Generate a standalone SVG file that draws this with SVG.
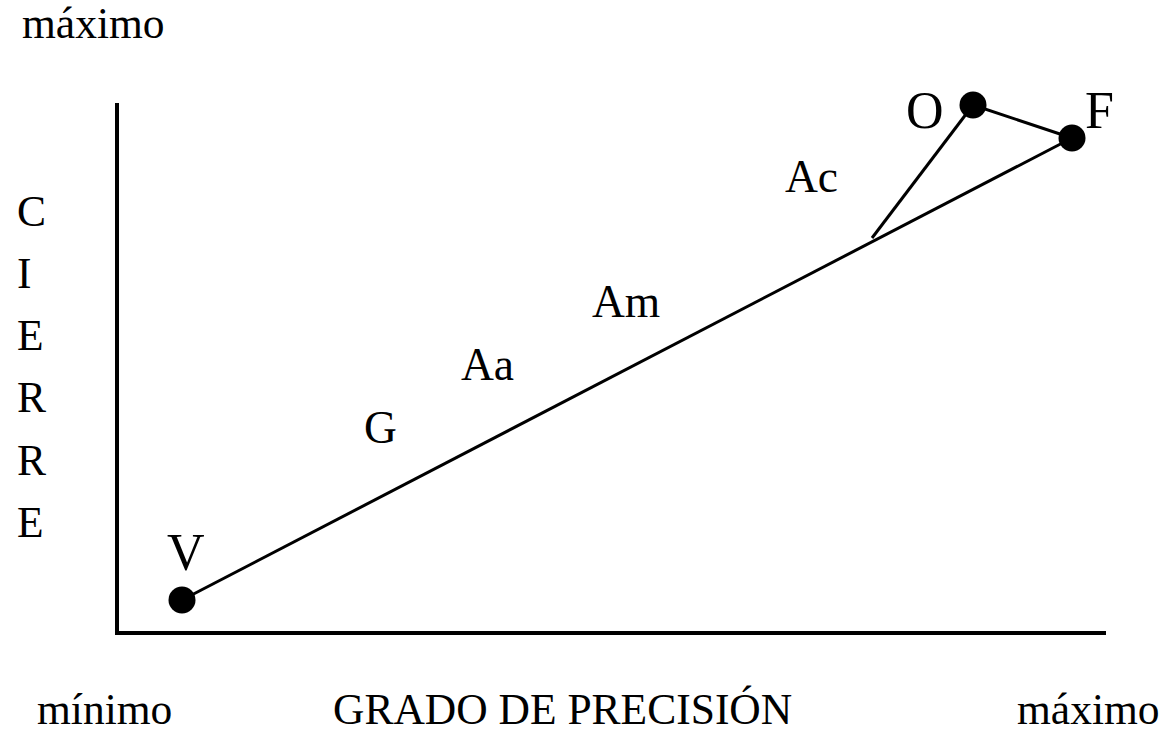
<svg xmlns="http://www.w3.org/2000/svg" width="1167" height="732" viewBox="0 0 1167 732">
<style>
text{font-family:"Liberation Serif","Times New Roman",serif;fill:#000}
.ax{font-size:43.5px}
.lb{font-size:45.5px}
.pt{font-size:52px}
.ln{stroke:#000;stroke-width:3;fill:none}
.axis{stroke:#000;stroke-width:4;fill:none}
.dot{fill:#000}
</style>
<rect width="1167" height="732" fill="#fff"/>
<g id="axes">
<path class="axis" d="M117,103 V633 H1106"/>
</g>
<g id="axis-labels">
<text class="ax" x="22" y="38">máximo</text>
<text class="ax" x="37" y="724">mínimo</text>
<text class="ax" x="333" y="724">GRADO DE PRECISIÓN</text>
<text class="ax" x="1017" y="724">máximo</text>
<text class="ax" x="17" y="226">C</text>
<text class="ax" x="17" y="288">I</text>
<text class="ax" x="17" y="350">E</text>
<text class="ax" x="17" y="412">R</text>
<text class="ax" x="17" y="475">R</text>
<text class="ax" x="17" y="537">E</text>
</g>
<g id="connectors">
<line class="ln" x1="182" y1="600" x2="1072" y2="138"/>
<line class="ln" x1="872" y1="238" x2="973" y2="105"/>
<line class="ln" x1="973" y1="105" x2="1072" y2="138"/>
</g>
<g id="node-V">
<circle class="dot" cx="182" cy="600" r="13.5"/>
<text class="pt" x="167" y="570">V</text>
</g>
<g id="node-O">
<circle class="dot" cx="973" cy="105" r="13.5"/>
<text class="pt" x="906" y="128">O</text>
</g>
<g id="node-F">
<circle class="dot" cx="1072" cy="138" r="13.5"/>
<text class="pt" x="1085" y="128">F</text>
</g>
<g id="region-labels">
<text class="lb" x="364" y="443">G</text>
<text class="lb" x="461" y="380">Aa</text>
<text class="lb" x="592" y="317">Am</text>
<text class="lb" x="785" y="192">Ac</text>
</g>
</svg>
